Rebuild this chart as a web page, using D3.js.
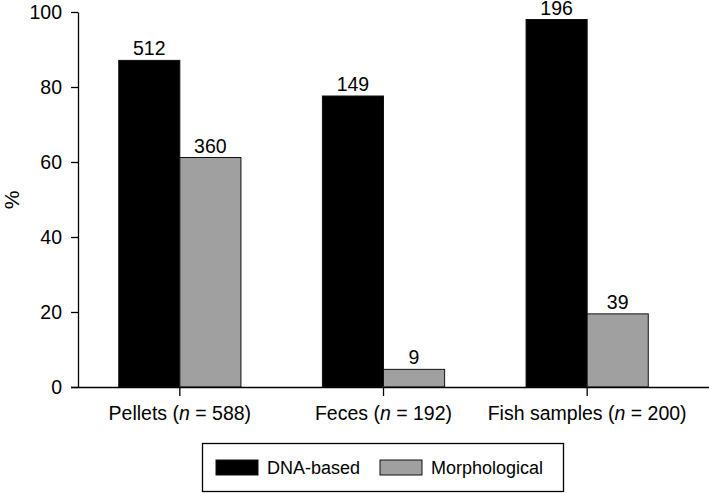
<!DOCTYPE html>
<html>
<head>
<meta charset="utf-8">
<script src="https://cdn.jsdelivr.net/npm/d3@7"></script>
<style>
  body { margin: 0; background: #fff; }
  svg { display: block; font-family: "Liberation Sans", Arial, sans-serif; }
</style>
</head>
<body>
<div class="chart"></div>
<script>
// data
var categories = ['Pellets', 'Feces', 'Fish samples'];
var sampleSizes = [588, 192, 200];
var seriesNames = ['DNA-based', 'Morphological'];
var dnaPercent = [87.1, 77.6, 98.0];
var morphPercent = [61.2, 4.7, 19.5];
var dnaCounts = [512, 149, 196];
var morphCounts = [360, 9, 39];
var yTicks = [0, 20, 40, 60, 80, 100];

var colors = { 'DNA-based': '#000000', 'Morphological': '#a0a0a0' };

var width = 709,
    height = 493;

var rows = [];
categories.forEach(function(c, i) {
  rows.push({ cat: c, series: 'DNA-based', value: dnaPercent[i], count: dnaCounts[i] });
  rows.push({ cat: c, series: 'Morphological', value: morphPercent[i], count: morphCounts[i] });
});

var svg = d3.select('.chart')
  .append('svg')
  .attr('width', width)
  .attr('height', height);

var x = d3.scaleBand()
  .domain(categories)
  .range([78, 689])
  .paddingInner(0.4)
  .paddingOuter(0.2);

var xSub = d3.scaleBand()
  .domain(seriesNames)
  .range([0, x.bandwidth()]);

var y = d3.scaleLinear()
  .domain([0, 100])
  .range([387, 12]);

// bars
svg.append('g')
  .selectAll('rect')
  .data(rows)
  .enter()
  .append('rect')
  .attr('x', function(d) { return x(d.cat) + xSub(d.series); })
  .attr('y', function(d) { return y(d.value); })
  .attr('width', xSub.bandwidth())
  .attr('height', function(d) { return y(0) - y(d.value); })
  .attr('fill', function(d) { return colors[d.series]; })
  .attr('stroke', '#111')
  .attr('stroke-width', 1);

// value labels
svg.append('g')
  .selectAll('text')
  .data(rows)
  .enter()
  .append('text')
  .attr('x', function(d) { return x(d.cat) + xSub(d.series) + xSub.bandwidth() / 2; })
  .attr('y', function(d) { return y(d.value) - 5; })
  .attr('text-anchor', 'middle')
  .style('font-size', '19.5px')
  .text(function(d) { return d.count; });

// y axis
var yAxis = d3.axisLeft(y)
  .tickValues(yTicks)
  .tickSize(7)
  .tickPadding(9)
  .tickSizeOuter(0);

var gy = svg.append('g')
  .attr('transform', 'translate(78,0)')
  .call(yAxis);
gy.select('.domain').attr('stroke', '#000').attr('stroke-width', 1.3);
gy.selectAll('.tick line').attr('stroke', '#000').attr('stroke-width', 1.3);
gy.selectAll('.tick text')
  .attr('fill', '#000')
  .style('font-size', '19.5px')
  .style('font-family', '"Liberation Sans", Arial, sans-serif');

// x axis
var xAxis = d3.axisBottom(x)
  .tickSize(9)
  .tickSizeOuter(0)
  .tickFormat(function() { return ''; });

var gx = svg.append('g')
  .attr('transform', 'translate(0,387)')
  .call(xAxis);
gx.select('.domain').attr('d', 'M71,0.5H709').attr('stroke', '#000').attr('stroke-width', 1.3);
gx.selectAll('.tick line').attr('stroke', '#000').attr('stroke-width', 1.3);

// category labels with italic n
var catLabels = svg.append('g')
  .selectAll('text')
  .data(categories)
  .enter()
  .append('text')
  .attr('x', function(d) { return x(d) + x.bandwidth() / 2; })
  .attr('y', 420)
  .attr('text-anchor', 'middle')
  .style('font-size', '19.5px');

catLabels.each(function(d, i) {
  var t = d3.select(this);
  t.append('tspan').text(d + ' (');
  t.append('tspan').style('font-style', 'italic').text('n');
  t.append('tspan').text(' = ' + sampleSizes[i] + ')');
});

// y label
svg.append('text')
  .attr('transform', 'translate(19,200) rotate(-90)')
  .attr('text-anchor', 'middle')
  .style('font-size', '21px')
  .text('%');

// legend
var legend = svg.append('g');
legend.append('rect')
  .attr('x', 202.5)
  .attr('y', 443.5)
  .attr('width', 361)
  .attr('height', 48)
  .attr('fill', '#fff')
  .attr('stroke', '#000')
  .attr('stroke-width', 1.3);

var legendPos = [{ sx: 216, tx: 267 }, { sx: 380, tx: 431 }];
seriesNames.forEach(function(s, i) {
  legend.append('rect')
    .attr('x', legendPos[i].sx)
    .attr('y', 460)
    .attr('width', 42)
    .attr('height', 15)
    .attr('fill', colors[s])
    .attr('stroke', '#111')
    .attr('stroke-width', 1);
  legend.append('text')
    .attr('x', legendPos[i].tx)
    .attr('y', 474)
    .style('font-size', '18px')
    .text(s);
});
</script>
</body>
</html>
